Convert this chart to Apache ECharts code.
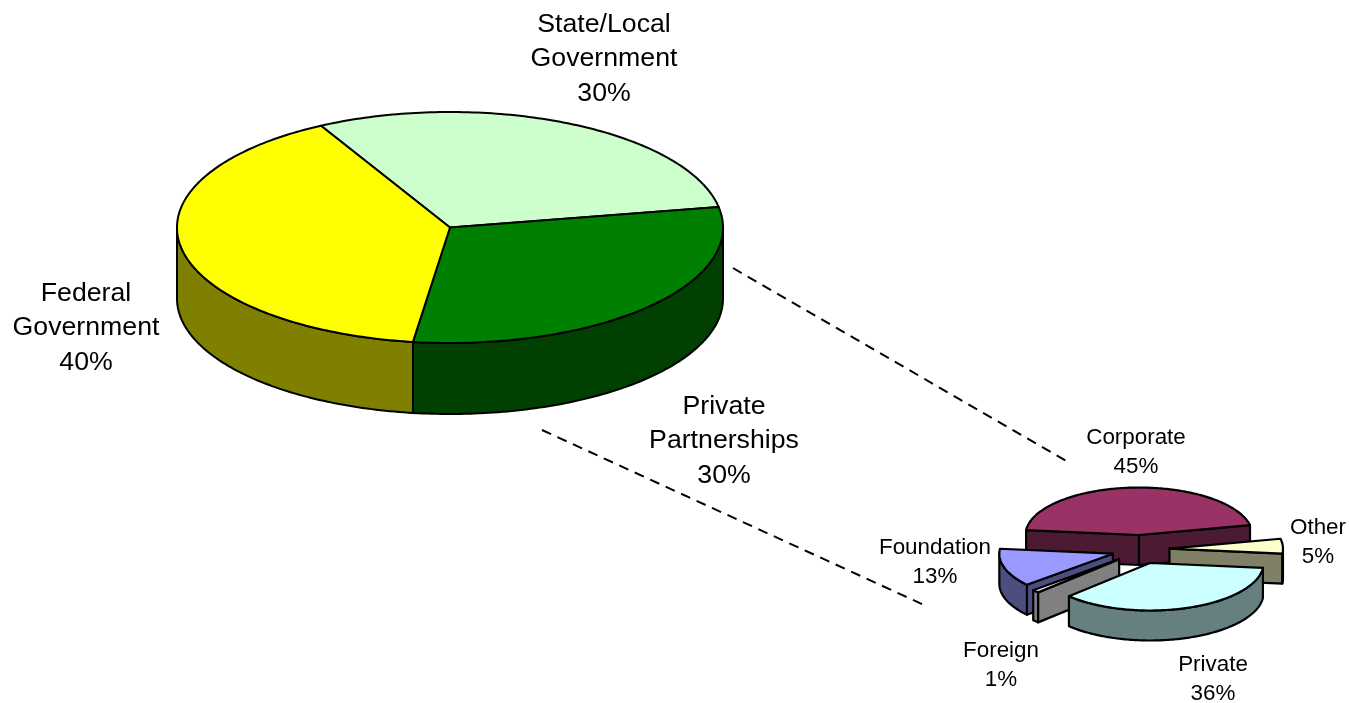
<!DOCTYPE html>
<html>
<head>
<meta charset="utf-8">
<title>Funding pie of pie</title>
<script src="https://cdn.jsdelivr.net/npm/echarts@6/dist/echarts.min.js"></script>
<style>
  html, body { margin: 0; padding: 0; background: #fff; }
  #chart { width: 1349px; height: 703px; }
</style>
</head>
<body>
<div id="chart"></div>
<script>
// data
const majorNames = ["State/Local\nGovernment", "Private\nPartnerships", "Federal\nGovernment"];
const majorValues = [30, 30, 40];
const minorNames = ["Corporate", "Other", "Private", "Foreign", "Foundation"];
const minorValues = [45, 5, 36, 1, 13];

// colours
const majorTop = ["#CCFFCC", "#008000", "#FFFF00"];
const majorWall = ["#668066", "#004000", "#808000"];
const minorTop = ["#993366", "#FFFFCC", "#CCFFFF", "#FFFFFF", "#9999FF"];
const minorWall = ["#4D1A33", "#808066", "#668080", "#808080", "#4D4D80"];

// label centres
const majorLabelPos = [[604, 59], [724, 441], [86, 328]];
const minorLabelPos = [[1136, 452], [1318, 542], [1213, 679], [1001, 665], [935, 562]];

// layout of the two pies, angles are clockwise from 12 o'clock
const majorLayout = { cx: 450, cy: 227.5, rx: 273, ry: 115.5, depth: 71, start: -28.2, explodeX: 0, explodeY: 0, lineWidth: 2, fontSize: 26.7, lineHeight: 34.5 };
const minorLayout = { cx: 1140.5, cy: 549.4, rx: 113.5, ry: 47.5, depth: 30, start: -84, explodeX: 29, explodeY: 14.4, lineWidth: 2.2, fontSize: 22.4, lineHeight: 29 };

const rad = (a) => (a * Math.PI) / 180;

function makePieSeries(names, values, topColors, wallColors, labelPos, pie) {
  const total = values.reduce((s, v) => s + v, 0);

  // angle span and exploded apex of every slice
  let acc = pie.start;
  const slices = values.map((v) => {
    const a0 = acc;
    const a1 = acc + (v / total) * 360;
    acc = a1;
    const mid = rad((a0 + a1) / 2);
    return {
      a0,
      a1,
      x: pie.cx + pie.explodeX * Math.sin(mid),
      y: pie.cy - pie.explodeY * Math.cos(mid)
    };
  });

  // back slices get painted first
  const rank = slices.map((s) => slices.filter((o) => o.y < s.y).length);

  const rim = (s, a) => [s.x + pie.rx * Math.sin(rad(a)), s.y - pie.ry * Math.cos(rad(a))];
  const arc = (s, from, to) => {
    const pts = [];
    const n = Math.max(2, Math.ceil(to - from));
    for (let i = 0; i <= n; i++) {
      pts.push(rim(s, from + ((to - from) * i) / n));
    }
    return pts;
  };
  const down = (pts) => pts.map((p) => [p[0], p[1] + pie.depth]).reverse();

  return {
    type: "custom",
    coordinateSystem: "none",
    animation: false,
    silent: true,
    data: values,
    renderItem: (params) => {
      const i = params.dataIndex;
      const s = slices[i];
      const base = rank[i] * 10;
      const children = [];
      const face = (points, fill) => {
        children.push({
          type: "polygon",
          z2: base + children.length,
          shape: { points },
          style: { fill, stroke: "#000", lineWidth: pie.lineWidth, lineJoin: "round" }
        });
      };

      // cut faces only show once a slice is pulled out
      if (pie.explodeX > 0) {
        if (Math.sin(rad(s.a0)) < 0) {
          const edge = [[s.x, s.y], rim(s, s.a0)];
          face(edge.concat(down(edge)), wallColors[i]);
        }
        if (Math.sin(rad(s.a1)) > 0) {
          const edge = [[s.x, s.y], rim(s, s.a1)];
          face(edge.concat(down(edge)), wallColors[i]);
        }
      }

      // outer wall, front half only
      const from = Math.max(s.a0, 90);
      const to = Math.min(s.a1, 270);
      if (to > from) {
        const edge = arc(s, from, to);
        face(edge.concat(down(edge)), wallColors[i]);
      }

      // top face
      face([[s.x, s.y]].concat(arc(s, s.a0, s.a1)), topColors[i]);

      children.push({
        type: "text",
        z2: 100,
        x: labelPos[i][0],
        y: labelPos[i][1],
        style: {
          text: names[i] + "\n" + values[i] + "%",
          fill: "#000",
          font: pie.fontSize + 'px "Liberation Sans", Arial, sans-serif',
          lineHeight: pie.lineHeight,
          align: "center",
          verticalAlign: "middle"
        }
      });

      return { type: "group", children };
    }
  };
}

const connector = (x1, y1, x2, y2) => ({
  type: "line",
  silent: true,
  shape: { x1, y1, x2, y2 },
  style: { stroke: "#000", lineWidth: 2, lineDash: [10, 7] }
});

const option = {
  backgroundColor: "#fff",
  animation: false,
  graphic: [connector(733, 268, 1068, 462), connector(542, 430, 924, 605)],
  series: [
    makePieSeries(majorNames, majorValues, majorTop, majorWall, majorLabelPos, majorLayout),
    makePieSeries(minorNames, minorValues, minorTop, minorWall, minorLabelPos, minorLayout)
  ]
};

const chart = echarts.init(document.getElementById("chart"));
chart.setOption(option);
</script>
</body>
</html>
